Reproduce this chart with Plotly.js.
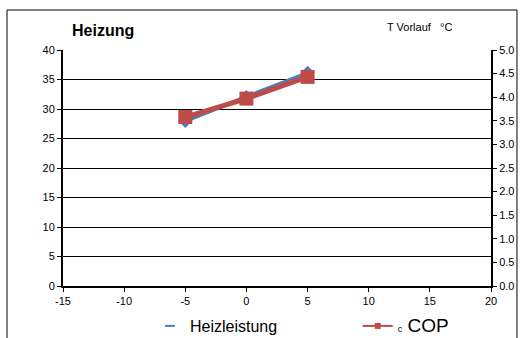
<!DOCTYPE html>
<html>
<head>
<meta charset="utf-8">
<script src="https://cdn.plot.ly/plotly-3.0.1.min.js"></script>
<style>html,body{margin:0;padding:0;background:#fff;}#chart{width:521px;height:338px;}</style>
</head>
<body>
<div id="chart"></div>
<script>
const tempOutside = [-5, 0, 5];
const heizleistung = [28.0, 32.0, 36.1];
const cop = [3.58, 3.97, 4.43];
const xTicks = [-15, -10, -5, 0, 5, 10, 15, 20];
const yTicks = [0, 5, 10, 15, 20, 25, 30, 35, 40];
const y2Ticks = [0, 0.5, 1, 1.5, 2, 2.5, 3, 3.5, 4, 4.5, 5];

const font = "Liberation Sans, Arial, sans-serif";
const pad = '&nbsp;'.repeat(17);

const traces = [
  {
    x: tempOutside, y: heizleistung, type: 'scatter', mode: 'lines+markers',
    name: 'Heizleistung', showlegend: false,
    line: {color: '#4A7EBB', width: 4},
    marker: {symbol: 'diamond', size: 11, color: '#4A7EBB'}
  },
  {
    x: tempOutside, y: cop, type: 'scatter', mode: 'lines+markers', yaxis: 'y2',
    name: 'COP', showlegend: false,
    line: {color: '#BE4B48', width: 5},
    marker: {symbol: 'square', size: 14, color: '#BE4B48'}
  },
  {
    x: [null], y: [null], type: 'scatter', mode: 'markers',
    name: 'Heizleistung' + pad, showlegend: true,
    marker: {symbol: 'line-ew', size: 7, line: {color: '#4A7EBB', width: 2}}
  },
  {
    x: [null], y: [null], type: 'scatter', mode: 'lines+markers', yaxis: 'y2',
    name: '<span style="font-size:9px">c</span><span style="font-size:19px"> COP</span>',
    showlegend: true,
    line: {color: '#BE4B48', width: 2},
    marker: {symbol: 'square', size: 6, color: '#BE4B48'}
  }
];

const layout = {
  width: 521, height: 338,
  margin: {l: 63, r: 30, t: 50, b: 52, autoexpand: false},
  paper_bgcolor: '#fff', plot_bgcolor: '#fff',
  font: {family: font, size: 11, color: '#000'},
  showlegend: true,
  legend: {
    orientation: 'h', xref: 'container', yref: 'container',
    x: 150/521, xanchor: 'left', y: 29/338, yanchor: 'top',
    font: {family: font, size: 16, color: '#000'},
    bgcolor: 'rgba(0,0,0,0)'
  },
  xaxis: {
    range: [-15, 20], tickvals: xTicks, ticktext: xTicks.map(String),
    showgrid: false, zeroline: false,
    showline: true, linecolor: '#000', linewidth: 2,
    ticks: 'outside', ticklen: 4, tickcolor: '#000', tickwidth: 1,
    tickfont: {family: font, size: 11, color: '#000'}
  },
  yaxis: {
    range: [0, 40], tickvals: yTicks, ticktext: yTicks.map(String),
    showgrid: true, gridcolor: '#000', gridwidth: 1, zeroline: false,
    showline: true, linecolor: '#000', linewidth: 2,
    ticks: 'outside', ticklen: 4, tickcolor: '#000',
    tickfont: {family: font, size: 11, color: '#000'}
  },
  yaxis2: {
    range: [0, 5], tickvals: y2Ticks, ticktext: y2Ticks.map(v => v.toFixed(1)),
    overlaying: 'y', side: 'right', showgrid: false, zeroline: false,
    showline: true, linecolor: '#000', linewidth: 2,
    ticks: 'outside', ticklen: 4, tickcolor: '#000',
    tickfont: {family: font, size: 11, color: '#000'}
  },
  shapes: [
    {type: 'rect', xref: 'paper', yref: 'paper', x0: -0.1308, x1: 1.0607, y0: -0.35, y1: 1.1695,
     line: {color: '#000', width: 1}, fillcolor: 'rgba(0,0,0,0)', layer: 'below'}
  ],
  annotations: [
    {text: '<b>Heizung</b>', xref: 'paper', yref: 'paper', x: (70-63)/428, y: (286-30)/236,
     xanchor: 'left', yanchor: 'middle', showarrow: false, font: {family: font, size: 16, color: '#000'}},
    {text: 'T Vorlauf   °C', xref: 'paper', yref: 'paper', x: (385-63)/428, y: (286-27)/236,
     xanchor: 'left', yanchor: 'middle', showarrow: false, font: {family: font, size: 11, color: '#000'}}
  ]
};

Plotly.newPlot('chart', traces, layout, {displayModeBar: false, staticPlot: true});
</script>
</body>
</html>
